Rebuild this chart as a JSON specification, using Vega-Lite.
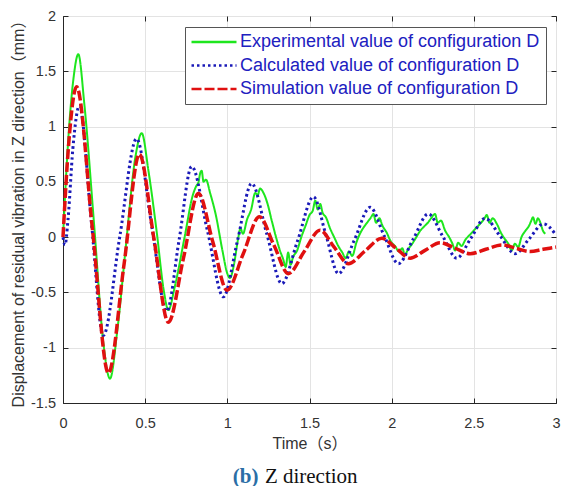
{
  "$schema": "https://vega.github.io/schema/vega-lite/v6.json",
  "width": 493,
  "height": 387,
  "autosize": {"type": "none"},
  "padding": {"left": 63, "top": 16, "right": 6, "bottom": 83},
  "background": "white",
  "config": {
    "view": {"stroke": "#262626", "strokeWidth": 1},
    "axis": {
      "labelFont": "Liberation Sans",
      "labelFontSize": 14.5,
      "labelColor": "#333333",
      "titleFont": "Liberation Sans, Noto Sans CJK SC",
      "titleFontSize": 16,
      "titleFontWeight": "normal",
      "titleColor": "#333333",
      "domainColor": "#262626",
      "tickColor": "#262626",
      "gridColor": "#e3e3e3"
    }
  },
  "title": {
    "text": "(b)\u00a0\u00a0\u00a0\u00a0\u00a0\u00a0\u00a0\u00a0\u00a0\u00a0\u00a0\u00a0\u00a0\u00a0\u00a0\u00a0\u00a0\u00a0\u00a0\u200b",
    "subtitle": "\u200b\u00a0\u00a0\u00a0\u00a0\u00a0\u00a0Z direction",
    "orient": "bottom",
    "anchor": "middle",
    "font": "Liberation Serif",
    "fontSize": 21,
    "fontWeight": "bold",
    "color": "#2b6ea6",
    "subtitleFont": "Liberation Serif",
    "subtitleFontSize": 21,
    "subtitleFontWeight": "normal",
    "subtitleColor": "#111111",
    "subtitlePadding": -21,
    "offset": 15,
    "dx": -14
  },
  "datasets": {
    "exp": [
      {"s": "Experimental value of configuration D", "t": 0.0, "v": 0.0},
      {"s": "Experimental value of configuration D", "t": 0.035, "v": 0.95},
      {"s": "Experimental value of configuration D", "t": 0.065, "v": 1.45},
      {"s": "Experimental value of configuration D", "t": 0.093, "v": 1.655},
      {"s": "Experimental value of configuration D", "t": 0.13, "v": 1.2},
      {"s": "Experimental value of configuration D", "t": 0.19, "v": 0.1},
      {"s": "Experimental value of configuration D", "t": 0.245, "v": -0.95},
      {"s": "Experimental value of configuration D", "t": 0.286, "v": -1.28},
      {"s": "Experimental value of configuration D", "t": 0.33, "v": -0.85},
      {"s": "Experimental value of configuration D", "t": 0.38, "v": -0.12},
      {"s": "Experimental value of configuration D", "t": 0.44, "v": 0.72},
      {"s": "Experimental value of configuration D", "t": 0.479, "v": 0.94},
      {"s": "Experimental value of configuration D", "t": 0.52, "v": 0.6},
      {"s": "Experimental value of configuration D", "t": 0.57, "v": 0.05},
      {"s": "Experimental value of configuration D", "t": 0.615, "v": -0.5},
      {"s": "Experimental value of configuration D", "t": 0.641, "v": -0.66},
      {"s": "Experimental value of configuration D", "t": 0.68, "v": -0.45},
      {"s": "Experimental value of configuration D", "t": 0.74, "v": 0.0},
      {"s": "Experimental value of configuration D", "t": 0.79, "v": 0.38},
      {"s": "Experimental value of configuration D", "t": 0.81, "v": 0.46},
      {"s": "Experimental value of configuration D", "t": 0.825, "v": 0.5},
      {"s": "Experimental value of configuration D", "t": 0.835, "v": 0.58},
      {"s": "Experimental value of configuration D", "t": 0.844, "v": 0.6},
      {"s": "Experimental value of configuration D", "t": 0.855, "v": 0.5},
      {"s": "Experimental value of configuration D", "t": 0.87, "v": 0.52},
      {"s": "Experimental value of configuration D", "t": 0.895, "v": 0.4},
      {"s": "Experimental value of configuration D", "t": 0.93, "v": 0.2},
      {"s": "Experimental value of configuration D", "t": 0.97, "v": -0.12},
      {"s": "Experimental value of configuration D", "t": 1.0, "v": -0.33},
      {"s": "Experimental value of configuration D", "t": 1.016, "v": -0.37},
      {"s": "Experimental value of configuration D", "t": 1.04, "v": -0.25},
      {"s": "Experimental value of configuration D", "t": 1.065, "v": -0.02},
      {"s": "Experimental value of configuration D", "t": 1.08, "v": 0.08},
      {"s": "Experimental value of configuration D", "t": 1.095, "v": 0.03},
      {"s": "Experimental value of configuration D", "t": 1.12, "v": 0.16},
      {"s": "Experimental value of configuration D", "t": 1.145, "v": 0.25},
      {"s": "Experimental value of configuration D", "t": 1.17, "v": 0.4},
      {"s": "Experimental value of configuration D", "t": 1.185, "v": 0.38},
      {"s": "Experimental value of configuration D", "t": 1.199, "v": 0.44},
      {"s": "Experimental value of configuration D", "t": 1.22, "v": 0.4},
      {"s": "Experimental value of configuration D", "t": 1.245, "v": 0.3},
      {"s": "Experimental value of configuration D", "t": 1.27, "v": 0.15},
      {"s": "Experimental value of configuration D", "t": 1.3, "v": -0.02},
      {"s": "Experimental value of configuration D", "t": 1.32, "v": -0.12},
      {"s": "Experimental value of configuration D", "t": 1.34, "v": -0.2},
      {"s": "Experimental value of configuration D", "t": 1.355, "v": -0.27},
      {"s": "Experimental value of configuration D", "t": 1.37, "v": -0.14},
      {"s": "Experimental value of configuration D", "t": 1.385, "v": -0.25},
      {"s": "Experimental value of configuration D", "t": 1.4, "v": -0.18},
      {"s": "Experimental value of configuration D", "t": 1.425, "v": -0.12},
      {"s": "Experimental value of configuration D", "t": 1.45, "v": 0.0},
      {"s": "Experimental value of configuration D", "t": 1.475, "v": 0.1},
      {"s": "Experimental value of configuration D", "t": 1.5, "v": 0.2},
      {"s": "Experimental value of configuration D", "t": 1.52, "v": 0.24},
      {"s": "Experimental value of configuration D", "t": 1.535, "v": 0.33},
      {"s": "Experimental value of configuration D", "t": 1.55, "v": 0.25},
      {"s": "Experimental value of configuration D", "t": 1.565, "v": 0.3},
      {"s": "Experimental value of configuration D", "t": 1.58, "v": 0.22},
      {"s": "Experimental value of configuration D", "t": 1.6, "v": 0.18},
      {"s": "Experimental value of configuration D", "t": 1.625, "v": 0.08},
      {"s": "Experimental value of configuration D", "t": 1.65, "v": 0.0},
      {"s": "Experimental value of configuration D", "t": 1.675, "v": -0.08},
      {"s": "Experimental value of configuration D", "t": 1.7, "v": -0.14},
      {"s": "Experimental value of configuration D", "t": 1.72, "v": -0.19},
      {"s": "Experimental value of configuration D", "t": 1.74, "v": -0.13},
      {"s": "Experimental value of configuration D", "t": 1.76, "v": -0.17},
      {"s": "Experimental value of configuration D", "t": 1.785, "v": -0.05},
      {"s": "Experimental value of configuration D", "t": 1.81, "v": 0.04},
      {"s": "Experimental value of configuration D", "t": 1.835, "v": 0.1},
      {"s": "Experimental value of configuration D", "t": 1.855, "v": 0.14},
      {"s": "Experimental value of configuration D", "t": 1.875, "v": 0.18},
      {"s": "Experimental value of configuration D", "t": 1.889, "v": 0.21},
      {"s": "Experimental value of configuration D", "t": 1.905, "v": 0.13},
      {"s": "Experimental value of configuration D", "t": 1.925, "v": 0.17},
      {"s": "Experimental value of configuration D", "t": 1.945, "v": 0.1},
      {"s": "Experimental value of configuration D", "t": 1.97, "v": 0.04},
      {"s": "Experimental value of configuration D", "t": 1.995, "v": -0.04},
      {"s": "Experimental value of configuration D", "t": 2.02, "v": -0.08},
      {"s": "Experimental value of configuration D", "t": 2.045, "v": -0.13},
      {"s": "Experimental value of configuration D", "t": 2.065, "v": -0.1},
      {"s": "Experimental value of configuration D", "t": 2.08, "v": -0.16},
      {"s": "Experimental value of configuration D", "t": 2.1, "v": -0.11},
      {"s": "Experimental value of configuration D", "t": 2.125, "v": -0.06},
      {"s": "Experimental value of configuration D", "t": 2.15, "v": 0.0},
      {"s": "Experimental value of configuration D", "t": 2.175, "v": 0.06},
      {"s": "Experimental value of configuration D", "t": 2.2, "v": 0.1},
      {"s": "Experimental value of configuration D", "t": 2.22, "v": 0.13},
      {"s": "Experimental value of configuration D", "t": 2.24, "v": 0.17},
      {"s": "Experimental value of configuration D", "t": 2.264, "v": 0.21},
      {"s": "Experimental value of configuration D", "t": 2.28, "v": 0.13},
      {"s": "Experimental value of configuration D", "t": 2.3, "v": 0.15},
      {"s": "Experimental value of configuration D", "t": 2.325, "v": 0.06},
      {"s": "Experimental value of configuration D", "t": 2.35, "v": 0.0},
      {"s": "Experimental value of configuration D", "t": 2.37, "v": -0.06},
      {"s": "Experimental value of configuration D", "t": 2.386, "v": -0.12},
      {"s": "Experimental value of configuration D", "t": 2.405, "v": -0.05},
      {"s": "Experimental value of configuration D", "t": 2.425, "v": -0.08},
      {"s": "Experimental value of configuration D", "t": 2.45, "v": -0.02},
      {"s": "Experimental value of configuration D", "t": 2.475, "v": 0.02},
      {"s": "Experimental value of configuration D", "t": 2.5, "v": 0.06},
      {"s": "Experimental value of configuration D", "t": 2.525, "v": 0.1},
      {"s": "Experimental value of configuration D", "t": 2.55, "v": 0.14},
      {"s": "Experimental value of configuration D", "t": 2.565, "v": 0.17},
      {"s": "Experimental value of configuration D", "t": 2.579, "v": 0.2},
      {"s": "Experimental value of configuration D", "t": 2.595, "v": 0.13},
      {"s": "Experimental value of configuration D", "t": 2.615, "v": 0.17},
      {"s": "Experimental value of configuration D", "t": 2.64, "v": 0.12},
      {"s": "Experimental value of configuration D", "t": 2.665, "v": 0.04},
      {"s": "Experimental value of configuration D", "t": 2.69, "v": -0.02},
      {"s": "Experimental value of configuration D", "t": 2.71, "v": -0.06},
      {"s": "Experimental value of configuration D", "t": 2.73, "v": -0.12},
      {"s": "Experimental value of configuration D", "t": 2.75, "v": -0.06},
      {"s": "Experimental value of configuration D", "t": 2.77, "v": -0.09},
      {"s": "Experimental value of configuration D", "t": 2.79, "v": 0.0},
      {"s": "Experimental value of configuration D", "t": 2.815, "v": 0.06},
      {"s": "Experimental value of configuration D", "t": 2.835, "v": 0.1},
      {"s": "Experimental value of configuration D", "t": 2.85, "v": 0.15},
      {"s": "Experimental value of configuration D", "t": 2.86, "v": 0.18},
      {"s": "Experimental value of configuration D", "t": 2.875, "v": 0.12},
      {"s": "Experimental value of configuration D", "t": 2.89, "v": 0.17},
      {"s": "Experimental value of configuration D", "t": 2.905, "v": 0.13},
      {"s": "Experimental value of configuration D", "t": 2.92, "v": 0.06},
      {"s": "Experimental value of configuration D", "t": 2.935, "v": 0.03}
    ],
    "calc": [
      {"s": "Calculated value of configuration D", "t": 0.0, "v": 0.0},
      {"s": "Calculated value of configuration D", "t": 0.012, "v": -0.07},
      {"s": "Calculated value of configuration D", "t": 0.03, "v": 0.15},
      {"s": "Calculated value of configuration D", "t": 0.06, "v": 0.8},
      {"s": "Calculated value of configuration D", "t": 0.1, "v": 1.19},
      {"s": "Calculated value of configuration D", "t": 0.172, "v": 0.15},
      {"s": "Calculated value of configuration D", "t": 0.245, "v": -0.89},
      {"s": "Calculated value of configuration D", "t": 0.345, "v": 0.0},
      {"s": "Calculated value of configuration D", "t": 0.448, "v": 0.89},
      {"s": "Calculated value of configuration D", "t": 0.54, "v": 0.1},
      {"s": "Calculated value of configuration D", "t": 0.631, "v": -0.67},
      {"s": "Calculated value of configuration D", "t": 0.707, "v": -0.02},
      {"s": "Calculated value of configuration D", "t": 0.783, "v": 0.64},
      {"s": "Calculated value of configuration D", "t": 0.88, "v": 0.05},
      {"s": "Calculated value of configuration D", "t": 0.976, "v": -0.54},
      {"s": "Calculated value of configuration D", "t": 1.062, "v": -0.03},
      {"s": "Calculated value of configuration D", "t": 1.148, "v": 0.485},
      {"s": "Calculated value of configuration D", "t": 1.24, "v": 0.03},
      {"s": "Calculated value of configuration D", "t": 1.331, "v": -0.42},
      {"s": "Calculated value of configuration D", "t": 1.428, "v": -0.03},
      {"s": "Calculated value of configuration D", "t": 1.524, "v": 0.365},
      {"s": "Calculated value of configuration D", "t": 1.6, "v": 0.02},
      {"s": "Calculated value of configuration D", "t": 1.676, "v": -0.33},
      {"s": "Calculated value of configuration D", "t": 1.772, "v": -0.03},
      {"s": "Calculated value of configuration D", "t": 1.869, "v": 0.27},
      {"s": "Calculated value of configuration D", "t": 1.955, "v": 0.01},
      {"s": "Calculated value of configuration D", "t": 2.041, "v": -0.24},
      {"s": "Calculated value of configuration D", "t": 2.132, "v": -0.015},
      {"s": "Calculated value of configuration D", "t": 2.223, "v": 0.21},
      {"s": "Calculated value of configuration D", "t": 2.31, "v": 0.01},
      {"s": "Calculated value of configuration D", "t": 2.396, "v": -0.19},
      {"s": "Calculated value of configuration D", "t": 2.482, "v": -0.01},
      {"s": "Calculated value of configuration D", "t": 2.568, "v": 0.17},
      {"s": "Calculated value of configuration D", "t": 2.66, "v": 0.01},
      {"s": "Calculated value of configuration D", "t": 2.751, "v": -0.15},
      {"s": "Calculated value of configuration D", "t": 2.837, "v": -0.015},
      {"s": "Calculated value of configuration D", "t": 2.923, "v": 0.12},
      {"s": "Calculated value of configuration D", "t": 3.0, "v": 0.02}
    ],
    "sim": [
      {"s": "Simulation value of configuration D", "t": 0.0, "v": 0.0},
      {"s": "Simulation value of configuration D", "t": 0.035, "v": 0.85},
      {"s": "Simulation value of configuration D", "t": 0.083, "v": 1.36},
      {"s": "Simulation value of configuration D", "t": 0.18, "v": 0.06},
      {"s": "Simulation value of configuration D", "t": 0.276, "v": -1.23},
      {"s": "Simulation value of configuration D", "t": 0.372, "v": -0.24},
      {"s": "Simulation value of configuration D", "t": 0.465, "v": 0.75},
      {"s": "Simulation value of configuration D", "t": 0.553, "v": -0.01},
      {"s": "Simulation value of configuration D", "t": 0.641, "v": -0.77},
      {"s": "Simulation value of configuration D", "t": 0.733, "v": -0.19},
      {"s": "Simulation value of configuration D", "t": 0.824, "v": 0.395},
      {"s": "Simulation value of configuration D", "t": 0.911, "v": -0.04},
      {"s": "Simulation value of configuration D", "t": 0.998, "v": -0.48},
      {"s": "Simulation value of configuration D", "t": 1.097, "v": -0.15},
      {"s": "Simulation value of configuration D", "t": 1.195, "v": 0.184},
      {"s": "Simulation value of configuration D", "t": 1.283, "v": -0.07},
      {"s": "Simulation value of configuration D", "t": 1.371, "v": -0.33},
      {"s": "Simulation value of configuration D", "t": 1.468, "v": -0.13},
      {"s": "Simulation value of configuration D", "t": 1.564, "v": 0.063},
      {"s": "Simulation value of configuration D", "t": 1.65, "v": -0.09},
      {"s": "Simulation value of configuration D", "t": 1.737, "v": -0.24},
      {"s": "Simulation value of configuration D", "t": 1.838, "v": -0.125},
      {"s": "Simulation value of configuration D", "t": 1.94, "v": -0.01},
      {"s": "Simulation value of configuration D", "t": 2.026, "v": -0.1},
      {"s": "Simulation value of configuration D", "t": 2.112, "v": -0.19},
      {"s": "Simulation value of configuration D", "t": 2.203, "v": -0.12},
      {"s": "Simulation value of configuration D", "t": 2.294, "v": -0.05},
      {"s": "Simulation value of configuration D", "t": 2.385, "v": -0.1},
      {"s": "Simulation value of configuration D", "t": 2.477, "v": -0.15},
      {"s": "Simulation value of configuration D", "t": 2.573, "v": -0.11},
      {"s": "Simulation value of configuration D", "t": 2.67, "v": -0.07},
      {"s": "Simulation value of configuration D", "t": 2.756, "v": -0.1},
      {"s": "Simulation value of configuration D", "t": 2.842, "v": -0.13},
      {"s": "Simulation value of configuration D", "t": 2.921, "v": -0.11},
      {"s": "Simulation value of configuration D", "t": 3.0, "v": -0.09}
    ]
  },
  "resolve": {"axis": {"x": "independent", "y": "independent"}},
  "layer": [
    {
      "encoding": {
        "x": {
          "field": "t",
          "type": "quantitative",
          "scale": {"domain": [0, 3], "nice": false, "zero": false},
          "axis": {
            "title": "Time（s）",
            "values": [0, 0.5, 1, 1.5, 2, 2.5, 3],
            "labelExpr": "'' + datum.value",
            "grid": true,
            "tickSize": -5,
            "labelPadding": 18,
            "titlePadding": 5.5,
            "labelFlush": false
          }
        },
        "y": {
          "field": "v",
          "type": "quantitative",
          "scale": {"domain": [-1.5, 2], "nice": false, "zero": false},
          "axis": {
            "title": "Displacement of residual vibration in Z direction（mm）",
            "values": [-1.5, -1, -0.5, 0, 0.5, 1, 1.5, 2],
            "labelExpr": "'' + datum.value",
            "grid": true,
            "tickSize": -5,
            "labelPadding": 12.5,
            "titlePadding": 4,
            "labelFlush": false
          }
        },
        "color": {
          "field": "s",
          "type": "nominal",
          "scale": {
            "domain": ["Experimental value of configuration D", "Calculated value of configuration D", "Simulation value of configuration D"],
            "range": ["#1ee61e", "#1a1ab8", "#e01010"]
          },
          "legend": {
            "title": null,
            "orient": "none",
            "legendX": 122,
            "legendY": 11,
            "fillColor": "white",
            "strokeColor": "#555555",
            "padding": 6,
            "labelFont": "Liberation Sans",
            "labelFontSize": 18,
            "labelColor": "#2020c0",
            "labelLimit": 500,
            "symbolType": "M-3,0H3",
            "symbolSize": 225,
            "symbolOffset": 14,
            "labelOffset": 17,
            "symbolStrokeWidth": 2.5,
            "rowPadding": 5.5
          }
        },
        "strokeDash": {
          "field": "s",
          "type": "nominal",
          "scale": {
            "domain": ["Experimental value of configuration D", "Calculated value of configuration D", "Simulation value of configuration D"],
            "range": [[1, 0], [2.5, 3], [10, 3]]
          },
          "legend": null
        }
      },
      "layer": [
        {"data": {"name": "exp"}, "mark": {"type": "line", "interpolate": "monotone", "strokeWidth": 2}},
        {"data": {"name": "calc"}, "mark": {"type": "line", "interpolate": "monotone", "strokeWidth": 3, "strokeCap": "butt"}},
        {"data": {"name": "sim"}, "mark": {"type": "line", "interpolate": "monotone", "strokeWidth": 3.5, "strokeCap": "butt"}}
      ]
    },
    {
      "data": {"name": "sim"},
      "mark": {"type": "line", "opacity": 0},
      "encoding": {
        "x": {
          "field": "t",
          "type": "quantitative",
          "scale": {"domain": [0, 3], "nice": false, "zero": false},
          "axis": {
            "orient": "top",
            "title": null,
            "labels": false,
            "grid": false,
            "domain": false,
            "values": [0, 0.5, 1, 1.5, 2, 2.5, 3],
            "tickSize": -5
          }
        },
        "y": {
          "field": "v",
          "type": "quantitative",
          "scale": {"domain": [-1.5, 2], "nice": false, "zero": false},
          "axis": {
            "orient": "right",
            "title": null,
            "labels": false,
            "grid": false,
            "domain": false,
            "values": [-1.5, -1, -0.5, 0, 0.5, 1, 1.5, 2],
            "tickSize": -5
          }
        }
      }
    }
  ]
}
